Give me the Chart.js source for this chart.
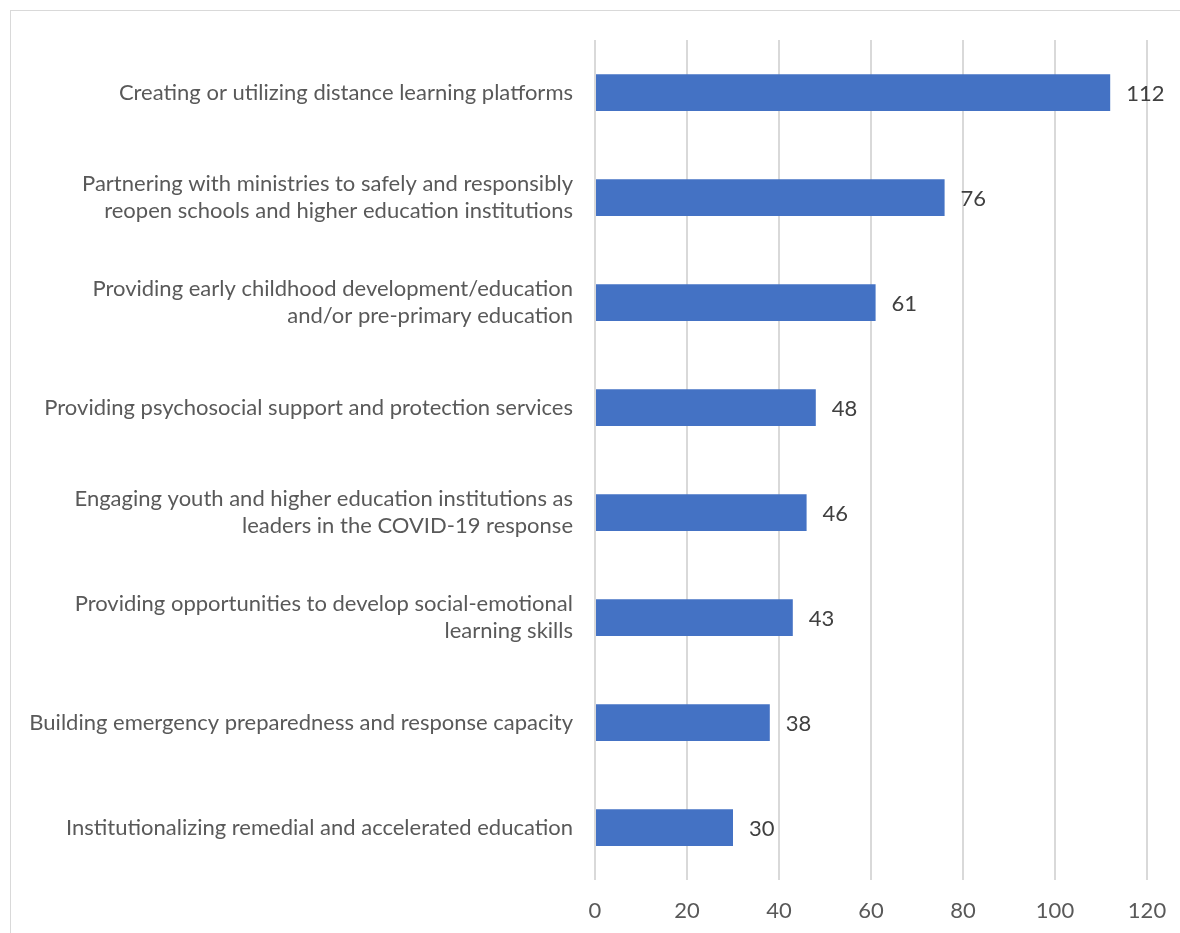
<!DOCTYPE html>
<html>
<head>
<meta charset="utf-8">
<script src="https://cdn.jsdelivr.net/npm/chart.js@4/dist/chart.umd.min.js"></script>
<style>
  html, body { margin: 0; padding: 0; background: #fff; overflow: hidden; }
  #wrap { position: relative; width: 1180px; height: 933px; }
  #frame { position: absolute; left: 10px; top: 10px; width: 1300px; height: 1100px; border: 1px solid #d9d9d9; }
  canvas { position: absolute; left: 0; top: 0; }
</style>
</head>
<body>
<div id="wrap">
  <div id="frame"></div>
  <canvas id="barChart" width="1180" height="933"></canvas>
</div>
<script>
// Activity categories, top to bottom
const activities = [
  "Creating or utilizing distance learning platforms",
  ["Partnering with ministries to safely and responsibly", "reopen schools and higher education institutions"],
  ["Providing early childhood development/education", "and/or pre-primary education"],
  "Providing psychosocial support and protection services",
  ["Engaging youth and higher education institutions as", "leaders in the COVID-19 response"],
  ["Providing opportunities to develop social-emotional", "learning skills"],
  "Building emergency preparedness and response capacity",
  "Institutionalizing remedial and accelerated education"
];
// Number of responses per activity
const counts = [112, 76, 61, 48, 46, 43, 38, 30];
// Axis range
const axisMin = 0;
const axisMax = 120;
const axisStep = 20;

const fontFamily = "Lato, 'Open Sans', sans-serif";

// writes the value just past the end of each bar
const valueLabels = {
  id: "valueLabels",
  afterDatasetsDraw(chart) {
    const ctx = chart.ctx;
    const meta = chart.getDatasetMeta(0);
    ctx.save();
    ctx.font = "22px " + fontFamily;
    ctx.fillStyle = "#404040";
    ctx.textAlign = "left";
    ctx.textBaseline = "middle";
    meta.data.forEach((bar, i) => {
      ctx.fillText(String(counts[i]), bar.x + 16, bar.y + 1);
    });
    ctx.restore();
  }
};

new Chart(document.getElementById("barChart"), {
  type: "bar",
  data: {
    labels: activities,
    datasets: [{
      data: counts,
      backgroundColor: "#4472C4",
      borderWidth: 0,
      barPercentage: 0.7,
      categoryPercentage: 0.5
    }]
  },
  options: {
    indexAxis: "y",
    responsive: false,
    animation: false,
    layout: { padding: { top: 40, right: 33, left: 0, bottom: 0 } },
    plugins: {
      legend: { display: false },
      tooltip: { enabled: false }
    },
    scales: {
      x: {
        min: axisMin,
        max: axisMax,
        border: { display: false },
        grid: { color: "#d9d9d9", lineWidth: 2, drawTicks: false },
        ticks: {
          stepSize: axisStep,
          padding: 18,
          color: "#595959",
          font: { family: fontFamily, size: 22 }
        },
        afterFit(scale) {
          scale.height = 53;
          scale.paddingLeft = 0;
          scale.paddingRight = 0;
        }
      },
      y: {
        border: { display: false },
        grid: { display: false, drawTicks: false },
        ticks: {
          padding: 22,
          color: "#595959",
          font: { family: fontFamily, size: 22, lineHeight: 1.23 }
        },
        afterFit(scale) { scale.width = 595; }
      }
    }
  },
  plugins: [valueLabels]
});
</script>
</body>
</html>
